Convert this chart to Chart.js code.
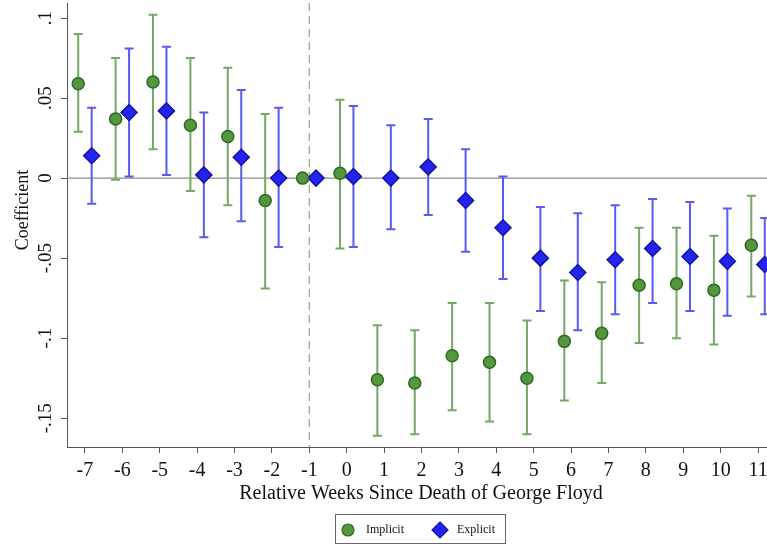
<!DOCTYPE html>
<html>
<head>
<meta charset="utf-8">
<script src="https://cdn.jsdelivr.net/npm/chart.js@4.4.1/dist/chart.umd.min.js"></script>
<style>
  body { margin: 0; background: #fff; }
  #wrap { width: 767px; height: 545px; }
</style>
</head>
<body>
<div id="wrap"><canvas id="graph" width="767" height="545"></canvas></div>
<script>
// weeks relative to the event
const weeks = [-7, -6, -5, -4, -3, -2, -1, 0, 1, 2, 3, 4, 5, 6, 7, 8, 9, 10, 11];

// implicit: coefficient and 95% CI
const implicit   = [0.059, 0.037, 0.060, 0.033, 0.026, -0.014, 0, 0.003, -0.126, -0.128, -0.111, -0.115, -0.125, -0.102, -0.097, -0.067, -0.066, -0.070, -0.042];
const implicitLo = [0.029, -0.001, 0.018, -0.008, -0.017, -0.069, 0, -0.044, -0.161, -0.160, -0.145, -0.152, -0.160, -0.139, -0.128, -0.103, -0.100, -0.104, -0.074];
const implicitHi = [0.090, 0.075, 0.102, 0.075, 0.069, 0.040, 0, 0.049, -0.092, -0.095, -0.078, -0.078, -0.089, -0.064, -0.065, -0.031, -0.031, -0.036, -0.011];

// explicit: coefficient and 95% CI
const explicit   = [0.014, 0.041, 0.042, 0.002, 0.013, 0.000, 0, 0.001, 0.000, 0.007, -0.014, -0.031, -0.050, -0.059, -0.051, -0.044, -0.049, -0.052, -0.054];
const explicitLo = [-0.016, 0.001, 0.002, -0.037, -0.027, -0.043, 0, -0.043, -0.032, -0.023, -0.046, -0.063, -0.083, -0.095, -0.085, -0.078, -0.083, -0.086, -0.085];
const explicitHi = [0.044, 0.081, 0.082, 0.041, 0.055, 0.044, 0, 0.045, 0.033, 0.037, 0.018, 0.001, -0.018, -0.022, -0.017, -0.013, -0.015, -0.019, -0.025];

const yTicks = [-0.15, -0.1, -0.05, 0, 0.05, 0.1];
const xTitle = 'Relative Weeks Since Death of George Floyd';
const yTitle = 'Coefficient';
const eventWeek = -1;

const serif = '"Liberation Serif", "Times New Roman", serif';
const green = { fill: '#55973f', line: '#2f6a24', bar: '#74a865' };
const blue  = { fill: '#2424f2', line: '#15159a', bar: '#5a5aee' };
const shift = 0.18; // side-by-side offset of the two series

function points(vals, lo, hi, dx) {
	return weeks.map((w, i) => ({ x: w + dx, y: vals[i], lo: lo[i], hi: hi[i] }));
}

function fmtY(v) {
	if (v === 0) return '0';
	return String(+v.toFixed(2)).replace('0.', '.');
}

// reference lines and confidence intervals under the markers
const behind = {
	id: 'behind',
	beforeDatasetsDraw(chart) {
		const { ctx, chartArea: a, scales: { x, y } } = chart;
		ctx.save();
		ctx.strokeStyle = '#8c8c8c';
		ctx.lineWidth = 1.2;
		ctx.beginPath();
		ctx.moveTo(a.left, y.getPixelForValue(0));
		ctx.lineTo(a.right, y.getPixelForValue(0));
		ctx.stroke();

		ctx.setLineDash([8, 5]);
		ctx.strokeStyle = '#9a9a9a';
		ctx.beginPath();
		ctx.moveTo(x.getPixelForValue(eventWeek), a.top);
		ctx.lineTo(x.getPixelForValue(eventWeek), a.bottom);
		ctx.stroke();
		ctx.setLineDash([]);

		chart.data.datasets.forEach(ds => {
			ctx.strokeStyle = ds.barColor;
			ctx.lineWidth = 2;
			ds.data.forEach(p => {
				if (p.lo === p.hi) return;
				const px = x.getPixelForValue(p.x);
				const y1 = y.getPixelForValue(p.lo);
				const y2 = y.getPixelForValue(p.hi);
				ctx.beginPath();
				ctx.moveTo(px, y1); ctx.lineTo(px, y2);
				ctx.moveTo(px - 4.5, y1); ctx.lineTo(px + 4.5, y1);
				ctx.moveTo(px - 4.5, y2); ctx.lineTo(px + 4.5, y2);
				ctx.stroke();
			});
		});
		ctx.restore();
	}
};

// rotated y tick labels, axis titles and the boxed legend
const extras = {
	id: 'extras',
	afterDraw(chart) {
		const { ctx, scales: { y } } = chart;
		ctx.save();
		ctx.fillStyle = '#111';
		ctx.textAlign = 'center';
		ctx.textBaseline = 'middle';

		ctx.font = '19px ' + serif;
		yTicks.forEach(v => {
			ctx.save();
			ctx.translate(46, y.getPixelForValue(v));
			ctx.rotate(-Math.PI / 2);
			ctx.fillText(fmtY(v), 0, 0);
			ctx.restore();
		});

		ctx.font = '18px ' + serif;
		ctx.save();
		ctx.translate(23, 210);
		ctx.rotate(-Math.PI / 2);
		ctx.fillText(yTitle, 0, 0);
		ctx.restore();

		ctx.font = '20px ' + serif;
		ctx.fillText(xTitle, 421, 494);

		// legend
		ctx.strokeStyle = '#666';
		ctx.lineWidth = 1;
		ctx.strokeRect(335.5, 514.5, 170, 29);
		ctx.font = '12px ' + serif;
		ctx.textAlign = 'left';
		chart.data.datasets.forEach((ds, i) => {
			const cx = i === 0 ? 348 : 440;
			const cy = 530;
			ctx.fillStyle = ds.backgroundColor;
			ctx.strokeStyle = ds.borderColor;
			ctx.lineWidth = 1.2;
			ctx.beginPath();
			if (ds.pointStyle === 'circle') {
				ctx.arc(cx, cy, 6, 0, Math.PI * 2);
			} else {
				ctx.moveTo(cx, cy - 8); ctx.lineTo(cx + 8, cy);
				ctx.lineTo(cx, cy + 8); ctx.lineTo(cx - 8, cy);
				ctx.closePath();
			}
			ctx.fill();
			ctx.stroke();
			ctx.fillStyle = '#111';
			ctx.fillText(ds.label, i === 0 ? 366 : 457, cy);
		});
		ctx.restore();
	}
};

const chart = new Chart(document.getElementById('graph'), {
	type: 'scatter',
	data: {
		datasets: [{
			label: 'Implicit',
			data: points(implicit, implicitLo, implicitHi, -shift),
			pointStyle: 'circle',
			pointRadius: 6,
			pointHoverRadius: 6,
			backgroundColor: green.fill,
			borderColor: green.line,
			borderWidth: 1.5,
			barColor: green.bar,
			clip: false
		}, {
			label: 'Explicit',
			data: points(explicit, explicitLo, explicitHi, shift),
			pointStyle: 'rectRot',
			pointRadius: 8,
			pointHoverRadius: 8,
			backgroundColor: blue.fill,
			borderColor: blue.line,
			borderWidth: 1.5,
			barColor: blue.bar,
			clip: false
		}]
	},
	options: {
		responsive: false,
		animation: false,
		devicePixelRatio: 1,
		layout: { autoPadding: false, padding: { top: 3, right: 0, bottom: 0, left: 0 } },
		plugins: { legend: { display: false }, tooltip: { enabled: false } },
		scales: {
			x: {
				type: 'linear',
				min: -7.48,
				max: 11.24,
				afterFit(s) { s.height = 98; s.paddingLeft = 0; s.paddingRight = 0; },
				ticks: {
					stepSize: 1,
					includeBounds: false,
					autoSkip: false,
					maxRotation: 0,
					padding: 6,
					color: '#111',
					font: { family: serif, size: 20 }
				},
				grid: { drawOnChartArea: false, drawTicks: true, tickLength: 6, color: '#555' },
				border: { display: true, color: '#555', width: 1 }
			},
			y: {
				min: -0.168,
				max: 0.1094,
				afterFit(s) { s.width = 67; },
				ticks: { stepSize: 0.05, includeBounds: false, display: false },
				grid: { drawOnChartArea: false, drawTicks: true, tickLength: 6, color: '#555' },
				border: { display: true, color: '#555', width: 1 }
			}
		}
	},
	plugins: [behind, extras]
});
</script>
</body>
</html>
